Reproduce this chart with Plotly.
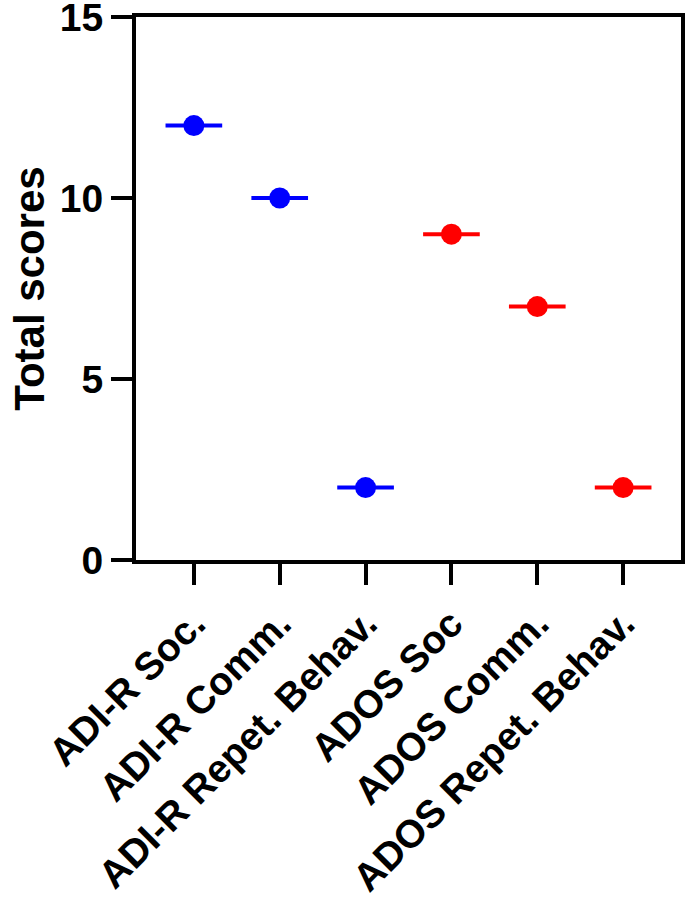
import plotly.graph_objects as go

# Category labels and scores
labels = ["ADI-R Soc.", "ADI-R Comm.", "ADI-R Repet. Behav.",
          "ADOS Soc", "ADOS Comm.", "ADOS Repet. Behav."]
adir_pos = [0, 1, 2]
adir_scores = [12, 10, 2]
ados_pos = [3, 4, 5]
ados_scores = [9, 7, 2]
yticks = [0, 5, 10, 15]

font_family = "Liberation Sans, Arial, sans-serif"

fig = go.Figure()

# ADI-R scores in blue, median bar drawn as a horizontal error bar
fig.add_trace(go.Scatter(
    x=adir_pos, y=adir_scores, mode="markers",
    marker=dict(color="#0000FF", size=21),
    error_x=dict(type="constant", value=0.33, color="#0000FF", thickness=4, width=0),
    showlegend=False, hoverinfo="skip"))

# ADOS scores in red
fig.add_trace(go.Scatter(
    x=ados_pos, y=ados_scores, mode="markers",
    marker=dict(color="#FF0000", size=21),
    error_x=dict(type="constant", value=0.33, color="#FF0000", thickness=4, width=0),
    showlegend=False, hoverinfo="skip"))

fig.update_xaxes(
    range=[-0.674, 5.674], tickvals=list(range(len(labels))), ticktext=labels,
    tickangle=-45, ticks="outside", ticklen=21, tickwidth=4, tickcolor="black",
    showline=True, linewidth=4, linecolor="black", mirror=True,
    showgrid=False, zeroline=False, ticklabeloverflow="allow",
    tickfont=dict(family=font_family, size=39, color="black", weight="bold"))

fig.update_yaxes(
    range=[0, 15], tickvals=yticks,
    ticks="outside", ticklen=21, tickwidth=4, tickcolor="black",
    showline=True, linewidth=4, linecolor="black", mirror=True,
    showgrid=False, zeroline=False, ticklabeloverflow="allow",
    tickfont=dict(family=font_family, size=39, color="black", weight="bold"),
    title=dict(text="Total scores", standoff=3,
               font=dict(family=font_family, size=42, color="black", weight="bold")))

fig.update_layout(
    width=685, height=900,
    margin=dict(l=136, r=4, t=17, b=340, autoexpand=False),
    plot_bgcolor="white", paper_bgcolor="white")

# drop the default page margin so the figure sits at the window's corner
fig.write_html("out.html", config={"displayModeBar": False},
               post_script="document.body.style.margin='0px';")
